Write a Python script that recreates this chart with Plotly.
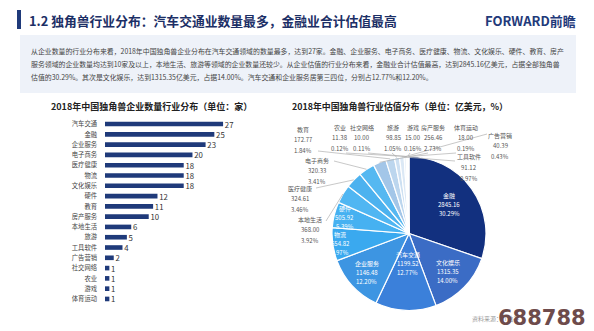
import math
import plotly.graph_objects as go

W, H = 594, 331
FONT = "Noto Sans CJK SC"

# ---------------- data ----------------
count_categories = ["汽车交通", "金融", "企业服务", "电子商务", "医疗健康", "物流", "文化娱乐", "硬件", "教育",
                    "房产服务", "本地生活", "旅游", "工具软件", "广告营销", "社交网络", "农业", "游戏", "体育运动"]
count_values = [27, 25, 23, 20, 18, 18, 18, 12, 11, 10, 6, 5, 4, 2, 1, 1, 1, 1]

val_categories = ["金融", "文化娱乐", "汽车交通", "企业服务", "物流", "硬件", "本地生活", "医疗健康", "电子商务",
                  "房产服务", "教育", "旅游", "工具软件", "广告营销", "农业", "社交网络", "游戏", "体育运动"]
val_values = [2845.16, 1315.35, 1199.52, 1146.48, 654.82, 505.92, 368.00, 324.61, 320.33,
              256.46, 172.77, 98.85, 91.12, 40.39, 11.38, 10.00, 15.00, 18.00]

title_text = "1.2 独角兽行业分布：汽车交通业数量最多，金融业合计估值最高"
para_lines = [
    "从企业数量的行业分布来看，2018年中国独角兽企业分布在汽车交通领域的数量最多，达到27家。金融、企业服务、电子商务、医疗健康、物流、文化娱乐、硬件、教育、房产",
    "服务领域的企业数量均达到10家及以上，本地生活、旅游等领域的企业数量还较少。从企业估值的行业分布来看，金融业合计估值最高，达到2845.16亿美元，占据全部独角兽",
    "估值的30.29%。其次是文化娱乐，达到1315.35亿美元，占据14.00%。汽车交通和企业服务居第三四位，分别占12.77%和12.20%。",
]
bar_title = "2018年中国独角兽企业数量行业分布（单位：家）"
pie_title = "2018年中国独角兽行业估值分布（单位：亿美元，%）"

# ---------------- style / layout ----------------
pie_colors = ["#12307f", "#3b6cc5", "#3b80da", "#3d95e2", "#3aa9ef", "#46b1f1", "#50b6f2", "#4cb2ef",
              "#55b8f1", "#a3c6e8", "#bcd6ee", "#cde0f2", "#dbe8f5", "#e4eef8", "#e9f1f9", "#edf3fa",
              "#eaf1f9", "#e6eff8"]
# inside labels: radius fraction per slice
inside_r = {"金融": 0.64, "文化娱乐": 0.70, "汽车交通": 0.39, "企业服务": 0.75, "物流": 0.90, "硬件": 0.86}
# outside labels: (center x, first line y, anchor x, anchor y) in pixels
outside_pos = {
    "教育": (303, 129, 318, 151),
    "农业": (340, 127, 346, 153),
    "社交网络": (362, 127, 368, 153),
    "旅游": (393, 127, 392, 153),
    "游戏": (413, 127, 410, 153),
    "房产服务": (433, 127, 428, 153),
    "体育运动": (466, 127, 456, 153),
    "广告营销": (500, 135, 487, 134),
    "工具软件": (469, 157, 455, 161),
    "电子商务": (317, 160, 334, 161),
    "医疗健康": (300, 188, 316, 188),
    "本地生活": (310, 219, 326, 221),
}

CX, CY, R = 409, 233.5, 77


def px(x):
    return x / W


def py(y):
    return 1 - y / H


fig = go.Figure()

# bar chart
fig.add_trace(go.Bar(
    x=count_values, y=count_categories, orientation="h",
    marker=dict(color="#1f3a7a", line=dict(width=0)),
    width=0.45, text=count_values, texttemplate=" %{x}", textposition="outside", constraintext="none",
    textfont=dict(size=7.8, color="#333333", family=FONT),
    cliponaxis=False, hoverinfo="skip", showlegend=False,
    xaxis="x", yaxis="y",
))

# pie chart
fig.add_trace(go.Pie(
    labels=val_categories, values=val_values, sort=False, direction="clockwise", rotation=0,
    marker=dict(colors=pie_colors, line=dict(color="white", width=1.2)),
    textinfo="none", hoverinfo="skip", showlegend=False,
    domain=dict(x=[px(CX - R), px(CX + R)], y=[py(CY + R), py(CY - R)]),
))

annotations = []
shapes = []

# header
shapes.append(dict(type="rect", xref="paper", yref="paper", x0=px(17), x1=px(21), y0=py(29), y1=py(10),
                   fillcolor="#1f3a7a", line=dict(width=0)))
annotations.append(dict(text="<b>" + title_text + "</b>", x=px(27), y=py(20), xref="paper", yref="paper",
                        xanchor="left", yanchor="middle", showarrow=False,
                        font=dict(size=12.8, color="#1c2f66", family=FONT)))
annotations.append(dict(text="<b>FORWARD前瞻</b>", x=px(578), y=py(20), xref="paper", yref="paper",
                        xanchor="right", yanchor="middle", showarrow=False,
                        font=dict(size=13, color="#1f3a7a", family=FONT)))
shapes.append(dict(type="rect", xref="paper", yref="paper", x0=px(20), x1=px(576), y0=py(93), y1=py(35),
                   fillcolor="#eef2f9", line=dict(width=0), layer="below"))
for i, line in enumerate(para_lines):
    annotations.append(dict(text=line, x=px(29), y=py(51 + 13 * i), xref="paper", yref="paper",
                            xanchor="left", yanchor="middle", showarrow=False,
                            font=dict(size=6.9, color="#444444", family=FONT)))

# chart titles
annotations.append(dict(text="<b>" + bar_title + "</b>", x=px(151), y=py(107), xref="paper", yref="paper",
                        xanchor="center", yanchor="middle", showarrow=False,
                        font=dict(size=9.0, color="#222222", family=FONT)))
annotations.append(dict(text="<b>" + pie_title + "</b>", x=px(400), y=py(107), xref="paper", yref="paper",
                        xanchor="center", yanchor="middle", showarrow=False,
                        font=dict(size=8.9, color="#222222", family=FONT)))

# pie labels
total = sum(val_values)
cum = 0.0
for name, v in zip(val_categories, val_values):
    frac = v / total
    mid = (cum + frac / 2) * 2 * math.pi
    cum += frac
    pct = frac * 100
    lines = [name, f"{v:.2f}", f"{pct:.2f}%"]
    if name in inside_r:
        r = inside_r[name] * R
        lx = CX + r * math.sin(mid)
        ly = CY - r * math.cos(mid)
        for k, t in enumerate(lines):
            annotations.append(dict(text=t, x=px(lx), y=py(ly + (k - 1) * 9), xref="paper", yref="paper",
                                    xanchor="center", yanchor="middle", showarrow=False,
                                    font=dict(size=6.0, color="white", family=FONT)))
    elif name in outside_pos:
        cxl, y0, ax, ay = outside_pos[name]
        for k, t in enumerate(lines):
            annotations.append(dict(text=t, x=px(cxl), y=py(y0 + k * 10.5), xref="paper", yref="paper",
                                    xanchor="center", yanchor="middle", showarrow=False,
                                    font=dict(size=6.0, color="#555555", family=FONT)))
        ex = CX + R * math.sin(mid)
        ey = CY - R * math.cos(mid)
        shapes.append(dict(type="line", xref="paper", yref="paper", x0=px(ax), y0=py(ay), x1=px(ex), y1=py(ey),
                           line=dict(color="#b0b0b0", width=0.7)))

# source + watermark
annotations.append(dict(text="资料来源：IT桔子", x=px(470), y=py(318), xref="paper", yref="paper",
                        xanchor="left", yanchor="middle", showarrow=False,
                        font=dict(size=6, color="#9a9a9a", family=FONT)))
annotations.append(dict(text="<b>688788</b>", x=px(588), y=py(318), xref="paper", yref="paper",
                        xanchor="right", yanchor="middle", showarrow=False,
                        font=dict(size=21, color="#6e4b4b", family="DejaVu Sans")))

fig.update_layout(
    width=W, height=H, margin=dict(l=0, r=0, t=0, b=0),
    paper_bgcolor="white", plot_bgcolor="white",
    xaxis=dict(domain=[px(105), px(283)], range=[0, 40.7], visible=False, fixedrange=True),
    yaxis=dict(domain=[py(304.1), py(118.9)], type="category", categoryorder="array",
               categoryarray=count_categories, range=[17.5, -0.5], showline=False, showgrid=False,
               zeroline=False, ticks="", ticklabelstandoff=7,
               tickfont=dict(size=6.3, color="#444444", family=FONT)),
    annotations=annotations, shapes=shapes,
    font=dict(family=FONT),
)

fig.write_html("out.html")
